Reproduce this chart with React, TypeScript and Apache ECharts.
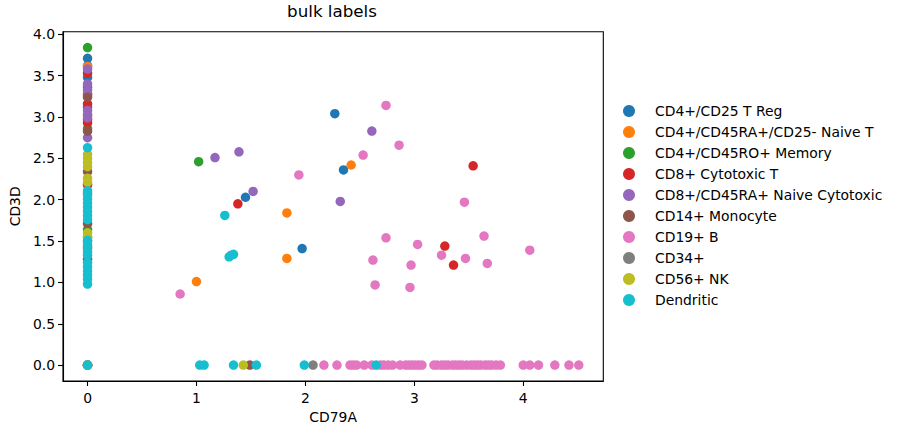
import React, { useEffect, useRef } from "react";
import * as echarts from "echarts";

const categories = [
  "CD4+/CD25 T Reg",
  "CD4+/CD45RA+/CD25- Naive T",
  "CD4+/CD45RO+ Memory",
  "CD8+ Cytotoxic T",
  "CD8+/CD45RA+ Naive Cytotoxic",
  "CD14+ Monocyte",
  "CD19+ B",
  "CD34+",
  "CD56+ NK",
  "Dendritic",
];

const colors = [
  "#1f77b4", "#ff7f0e", "#2ca02c", "#d62728", "#9467bd",
  "#8c564b", "#e377c2", "#7f7f7f", "#bcbd22", "#17becf",
];

// [CD79A, CD3D] per category
const tReg = [
  [0, 0], [0, 3.71], [0, 3.48], [0, 3.62], [0, 3.36], [0, 3.12],
  [1.45, 2.03], [1.97, 1.41], [2.27, 3.04], [2.35, 2.36],
];
const naiveT = [
  [0, 0], [0, 3.61], [0, 2.19], [0, 1.43], [0, 3.02],
  [1.83, 1.84], [1.83, 1.29], [1.0, 1.01], [2.42, 2.42],
];
const memory = [
  [0, 0], [0, 3.84], [0, 1.64], [0, 1.55], [0, 2.86],
  [1.02, 2.46],
];
const cytotoxicT = [
  [0, 0], [0, 3.53], [0, 3.16], [0, 2.93], [0, 2.97], [0, 2.18], [0, 3.28],
  [1.38, 1.95], [3.54, 2.41], [3.28, 1.44], [3.36, 1.21],
];
const naiveCytotoxic = [
  [0, 0], [0, 3.58], [0, 3.4], [0, 3.33], [0, 3.27], [0, 3.08], [0, 3.03], [0, 2.99], [0, 2.75],
  [1.17, 2.51], [1.39, 2.58], [1.52, 2.1], [2.61, 2.83], [2.32, 1.98],
];
const monocyte = [
  [0, 0], [0, 3.24], [0, 2.83], [0, 2.34], [0, 1.71], [0, 1.28],
  [1.49, 0],
];
const bCells = [
  [0, 0], [0, 1.4],
  [0.85, 0.86], [1.94, 2.3], [2.74, 3.14], [2.86, 2.66], [2.53, 2.54], [3.46, 1.97],
  [2.74, 1.54], [3.03, 1.46], [3.64, 1.56], [4.06, 1.39], [3.25, 1.33], [3.47, 1.29],
  [2.62, 1.27], [2.97, 1.21], [3.67, 1.23], [2.64, 0.97], [2.96, 0.94],
  [2.17, 0], [2.29, 0], [2.41, 0], [2.44, 0], [2.47, 0], [2.54, 0], [2.61, 0], [2.69, 0],
  [2.72, 0], [2.76, 0], [2.8, 0], [2.87, 0], [2.92, 0], [2.95, 0], [2.98, 0], [3.01, 0],
  [3.04, 0], [3.07, 0], [3.18, 0], [3.21, 0], [3.25, 0], [3.28, 0], [3.31, 0], [3.35, 0],
  [3.38, 0], [3.41, 0], [3.44, 0], [3.48, 0], [3.52, 0], [3.55, 0], [3.58, 0], [3.61, 0],
  [3.65, 0], [3.68, 0], [3.71, 0], [3.75, 0], [3.79, 0], [4.0, 0], [4.06, 0], [4.14, 0],
  [4.29, 0], [4.42, 0], [4.51, 0],
];
const cd34 = [
  [0, 0], [0, 2.08], [0, 1.5],
  [2.07, 0],
];
const nk = [
  [0, 0], [0, 2.55], [0, 2.5], [0, 2.45], [0, 2.4], [0, 2.26], [0, 2.21], [0, 1.6], [0, 1.55],
  [1.43, 0],
];
const dendritic = [
  [0, 2.63], [0, 2.11], [0, 2.06], [0, 2.01], [0, 1.96], [0, 1.91], [0, 1.86],
  [0, 1.81], [0, 1.76], [0, 1.51], [0, 1.46], [0, 1.42], [0, 1.37], [0, 1.33], [0, 1.24],
  [0, 1.19], [0, 1.14], [0, 1.09], [0, 1.04], [0, 0.98], [0, 0],
  [1.26, 1.81], [1.3, 1.31], [1.32, 1.33], [1.34, 1.34],
  [1.03, 0], [1.07, 0], [1.34, 0], [1.55, 0], [1.99, 0], [2.65, 0],
];

const seriesData = [tReg, naiveT, memory, cytotoxicT, naiveCytotoxic, monocyte, bCells, cd34, nk, dendritic];

const xTicks = [0, 1, 2, 3, 4];
const yTicks = [0, 0.5, 1, 1.5, 2, 2.5, 3, 3.5, 4];

const FONT = "DejaVu Sans";

export default function App() {
  const ref = useRef<HTMLDivElement>(null);
  useEffect(() => {
    document.body.style.margin = "0";
    if (!ref.current) return;
    const chart = echarts.init(ref.current, null, { renderer: "svg" });
    chart.setOption({
      animation: false,
      title: {
        text: "bulk labels",
        left: 332,
        top: 2,
        padding: 0,
        textAlign: "center",
        textStyle: { fontFamily: FONT, fontSize: 16.7, fontWeight: "normal", color: "#000" },
      },
      grid: {
        left: 61.3,
        top: 31.7,
        right: 297.7,
        bottom: 53,
        show: true,
        borderColor: "#000",
        borderWidth: 1.1,
      },
      legend: {
        orient: "vertical",
        left: 623,
        top: 104,
        padding: 0,
        itemWidth: 42,
        itemHeight: 12,
        itemGap: 7.0,
        icon: "circle",
        data: categories,
        textStyle: { fontFamily: FONT, fontSize: 13.9, color: "#000", padding: 0 },
      },
      xAxis: {
        type: "value",
        min: -0.2255,
        max: 4.735,
        name: "CD79A",
        nameLocation: "middle",
        nameGap: 21,
        nameTextStyle: { fontFamily: FONT, fontSize: 13.9, color: "#000" },
        splitLine: { show: false },
        axisLine: { show: true, onZero: false, lineStyle: { color: "#000", width: 1.1 } },
        axisTick: { show: true, customValues: xTicks, length: 5, lineStyle: { color: "#000", width: 1.1 } },
        axisLabel: {
          customValues: xTicks,
          color: "#000",
          fontFamily: FONT,
          fontSize: 13.9,
          margin: 10,
          formatter: (v: number) => String(v),
        },
      },
      yAxis: {
        type: "value",
        min: -0.192,
        max: 4.032,
        name: "CD3D",
        nameLocation: "middle",
        nameGap: 38,
        nameTextStyle: { fontFamily: FONT, fontSize: 13.9, color: "#000" },
        splitLine: { show: false },
        axisLine: { show: true, onZero: false, lineStyle: { color: "#000", width: 1.1 } },
        axisTick: { show: true, customValues: yTicks, length: 5, lineStyle: { color: "#000", width: 1.1 } },
        axisLabel: {
          customValues: yTicks,
          color: "#000",
          fontFamily: FONT,
          fontSize: 13.9,
          margin: 8,
          formatter: (v: number) => v.toFixed(1),
        },
      },
      series: categories.map((name, i) => ({
        name,
        type: "scatter",
        data: seriesData[i],
        symbol: "circle",
        symbolSize: 9.5,
        itemStyle: { color: colors[i], opacity: 1 },
        emphasis: { disabled: true },
      })),
    });
    return () => chart.dispose();
  }, []);
  return <div ref={ref} style={{ width: 901, height: 434 }} />;
}
